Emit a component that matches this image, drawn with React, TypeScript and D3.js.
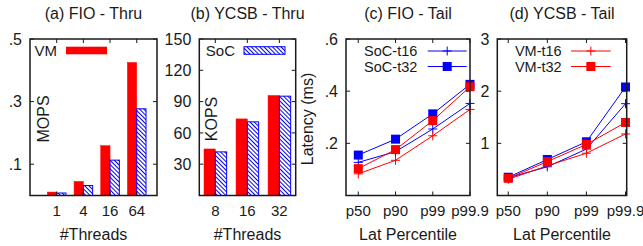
import React from "react";
import * as d3 from "d3";

// (a) FIO - Thru, MOPS
const fioThreads = ["1", "4", "16", "64"];
const fioVM = [0.011, 0.045, 0.159, 0.425];
const fioSoC = [0.008, 0.032, 0.113, 0.277];
const fioTicks = [0.1, 0.3, 0.5];

// (b) YCSB - Thru, KOPS
const ycsbThreads = ["8", "16", "32"];
const ycsbVM = [44.6, 73.4, 95.8];
const ycsbSoC = [41.8, 70.6, 95.2];
const ycsbTicks = [30, 60, 90, 120, 150];

// (c) FIO - Tail, latency (ms)
const percentiles = ["p50", "p90", "p99", "p99.9"];
const fioSoCt16 = [0.127, 0.168, 0.255, 0.353];
const fioSoCt32 = [0.155, 0.216, 0.313, 0.426];
const fioVMt16 = [0.083, 0.135, 0.229, 0.33];
const fioVMt32 = [0.103, 0.176, 0.287, 0.417];
const fioTailTicks = [0.2, 0.4, 0.6];

// (d) YCSB - Tail
const ycsbSoCt16 = [0.34, 0.55, 0.89, 1.76];
const ycsbSoCt32 = [0.35, 0.69, 1.03, 2.08];
const ycsbVMt16 = [0.31, 0.57, 0.81, 1.18];
const ycsbVMt32 = [0.33, 0.65, 0.98, 1.4];
const ycsbTailTicks = [1, 2, 3];

const RED = "#ff0000";
const BLUE = "#0000ff";
const INK = "#1a1a1a";
const FONT = "'Liberation Sans', Arial, sans-serif";

const top = 39;
const bottom = 195.5;
const fmtDot = (v: number) => d3.format(".1f")(v).replace(/^0/, "");

type Frame = {
  x0: number;
  x1: number;
  xDomain: [number, number];
  yDomain: [number, number];
};

const Axes: React.FC<{
  f: Frame;
  xLabels: string[];
  yTicks: number[];
  yFmt: (v: number) => string;
  title: string;
  xTitle: string;
}> = ({ f, xLabels, yTicks, yFmt, title, xTitle }) => {
  const x = d3.scaleLinear().domain(f.xDomain).range([f.x0, f.x1]);
  const y = d3.scaleLinear().domain(f.yDomain).range([bottom, top]);
  return (
    <g fontFamily={FONT} fill={INK}>
      {yTicks.map((t) => (
        <g key={t}>
          <line x1={f.x0} x2={f.x0 + 4} y1={y(t)} y2={y(t)} stroke={INK} />
          <line x1={f.x1} x2={f.x1 - 4} y1={y(t)} y2={y(t)} stroke={INK} />
          <text x={f.x0 - 8} y={y(t)} dy="0.36em" textAnchor="end" fontSize={16}>
            {yFmt(t)}
          </text>
        </g>
      ))}
      {xLabels.map((l, i) => (
        <g key={l}>
          <line x1={x(i)} x2={x(i)} y1={bottom} y2={bottom - 4} stroke={INK} />
          <line x1={x(i)} x2={x(i)} y1={top} y2={top + 4} stroke={INK} />
          <text x={x(i)} y={215.5} textAnchor="middle" fontSize={15}>
            {l}
          </text>
        </g>
      ))}
      <rect x={f.x0} y={top} width={f.x1 - f.x0} height={bottom - top} fill="none" stroke={INK} strokeWidth={1.5} />
      <text x={(f.x0 + f.x1) / 2} y={19} textAnchor="middle" fontSize={16}>
        {title}
      </text>
      <text x={(f.x0 + f.x1) / 2} y={240} textAnchor="middle" fontSize={16}>
        {xTitle}
      </text>
    </g>
  );
};

const Bars: React.FC<{ f: Frame; vm: number[]; soc: number[]; w: number }> = ({ f, vm, soc, w }) => {
  const x = d3.scaleLinear().domain(f.xDomain).range([f.x0, f.x1]);
  const y = d3.scaleLinear().domain(f.yDomain).range([bottom, top]);
  return (
    <g>
      {vm.map((v, i) => (
        <rect key={"vm" + i} x={x(i) - w} y={y(v)} width={w} height={bottom - y(v)} fill={RED} stroke={RED} strokeWidth={0.5} />
      ))}
      {soc.map((v, i) => (
        <rect key={"soc" + i} x={x(i)} y={y(v)} width={w} height={bottom - y(v)} fill="url(#hatch)" stroke={BLUE} strokeWidth={1} />
      ))}
    </g>
  );
};

const Marker: React.FC<{ x: number; y: number; kind: "plus" | "square"; color: string }> = ({ x, y, kind, color }) =>
  kind === "plus" ? (
    <path d={`M${x - 4.5},${y}H${x + 4.5}M${x},${y - 4.5}V${y + 4.5}`} stroke={color} strokeWidth={1} />
  ) : (
    <rect x={x - 4.5} y={y - 4.5} width={9} height={9} fill={color} />
  );

const Lines: React.FC<{
  f: Frame;
  series: { values: number[]; color: string; kind: "plus" | "square" }[];
}> = ({ f, series }) => {
  const x = d3.scaleLinear().domain(f.xDomain).range([f.x0, f.x1]);
  const y = d3.scaleLinear().domain(f.yDomain).range([bottom, top]);
  const line = d3
    .line<number>()
    .x((_, i) => x(i))
    .y((d) => y(d));
  return (
    <g>
      {series.map((s, k) => (
        <path key={"l" + k} d={line(s.values) ?? ""} fill="none" stroke={s.color} strokeWidth={1} />
      ))}
      {series.map((s, k) =>
        s.values.map((v, i) => <Marker key={k + "-" + i} x={x(i)} y={y(v)} kind={s.kind} color={s.color} />)
      )}
    </g>
  );
};

const LineKey: React.FC<{ xText: number; x0: number; x1: number; y: number; label: string; color: string; kind: "plus" | "square" }> = ({
  xText,
  x0,
  x1,
  y,
  label,
  color,
  kind,
}) => (
  <g>
    <text x={xText} y={y} dy="0.36em" textAnchor="end" fontFamily={FONT} fontSize={14.5} fill={INK}>
      {label}
    </text>
    <line x1={x0} x2={x1} y1={y} y2={y} stroke={color} strokeWidth={1} />
    <Marker x={(x0 + x1) / 2} y={y} kind={kind} color={color} />
  </g>
);

const fA: Frame = { x0: 30, x1: 157, xDomain: [-1, 3.76], yDomain: [0, 0.5] };
const fB: Frame = { x0: 199.3, x1: 295.7, xDomain: [-0.5, 2.51], yDomain: [0, 150] };
const fC: Frame = { x0: 346, x1: 470, xDomain: [-0.33, 3.0], yDomain: [0, 0.6] };
const fD: Frame = { x0: 497.3, x1: 626.7, xDomain: [-0.28, 3.03], yDomain: [0, 3] };

export default function App() {
  return (
    <svg width={643} height={246} style={{ position: "absolute", left: 0, top: 0, background: "#fff" }}>
      <defs>
        <pattern id="hatch" width={3} height={3} patternUnits="userSpaceOnUse" patternTransform="rotate(-45)">
          <rect width={3} height={3} fill="#fff" />
          <line x1={0} y1={0} x2={0} y2={3} stroke={BLUE} strokeWidth={2} />
        </pattern>
      </defs>

      {/* (a) */}
      <Bars f={fA} vm={fioVM} soc={fioSoC} w={9.3} />
      <Axes f={fA} xLabels={fioThreads} yTicks={fioTicks} yFmt={fmtDot} title="(a) FIO - Thru" xTitle="#Threads" />
      <text transform="translate(49,119) rotate(-90)" textAnchor="middle" fontFamily={FONT} fontSize={16} fill={INK}>
        MOPS
      </text>
      <text x={57} y={50.5} dy="0.36em" textAnchor="end" fontFamily={FONT} fontSize={15} fill={INK}>
        VM
      </text>
      <rect x={66} y={46.7} width={41} height={7.6} fill={RED} />

      {/* (b) */}
      <Bars f={fB} vm={ycsbVM} soc={ycsbSoC} w={11.3} />
      <Axes f={fB} xLabels={ycsbThreads} yTicks={ycsbTicks} yFmt={(v) => String(v)} title="(b) YCSB - Thru" xTitle="#Threads" />
      <text transform="translate(217,119) rotate(-90)" textAnchor="middle" fontFamily={FONT} fontSize={16} fill={INK}>
        KOPS
      </text>
      <text x={235} y={50.5} dy="0.36em" textAnchor="end" fontFamily={FONT} fontSize={15} fill={INK}>
        SoC
      </text>
      <rect x={244} y={46.7} width={41} height={7.6} fill="url(#hatch)" stroke={BLUE} />

      {/* (c) */}
      <Lines
        f={fC}
        series={[
          { values: fioSoCt16, color: BLUE, kind: "plus" },
          { values: fioSoCt32, color: BLUE, kind: "square" },
          { values: fioVMt16, color: RED, kind: "plus" },
          { values: fioVMt32, color: RED, kind: "square" },
        ]}
      />
      <Axes f={fC} xLabels={percentiles} yTicks={fioTailTicks} yFmt={fmtDot} title="(c) FIO - Tail" xTitle="Lat Percentile" />
      <text transform="translate(313,119) rotate(-90)" textAnchor="middle" fontFamily={FONT} fontSize={16} fill={INK}>
        Latency (ms)
      </text>
      <LineKey xText={417.3} x0={427.7} x1={466.7} y={51} label="SoC-t16" color={BLUE} kind="plus" />
      <LineKey xText={417.3} x0={427.7} x1={466.7} y={66.5} label="SoC-t32" color={BLUE} kind="square" />

      {/* (d) */}
      <Lines
        f={fD}
        series={[
          { values: ycsbSoCt16, color: BLUE, kind: "plus" },
          { values: ycsbSoCt32, color: BLUE, kind: "square" },
          { values: ycsbVMt16, color: RED, kind: "plus" },
          { values: ycsbVMt32, color: RED, kind: "square" },
        ]}
      />
      <Axes f={fD} xLabels={percentiles} yTicks={ycsbTailTicks} yFmt={(v) => String(v)} title="(d) YCSB - Tail" xTitle="Lat Percentile" />
      <LineKey xText={561.7} x0={571} x1={610.7} y={51} label="VM-t16" color={RED} kind="plus" />
      <LineKey xText={561.7} x0={571} x1={610.7} y={66.5} label="VM-t32" color={RED} kind="square" />
    </svg>
  );
}
